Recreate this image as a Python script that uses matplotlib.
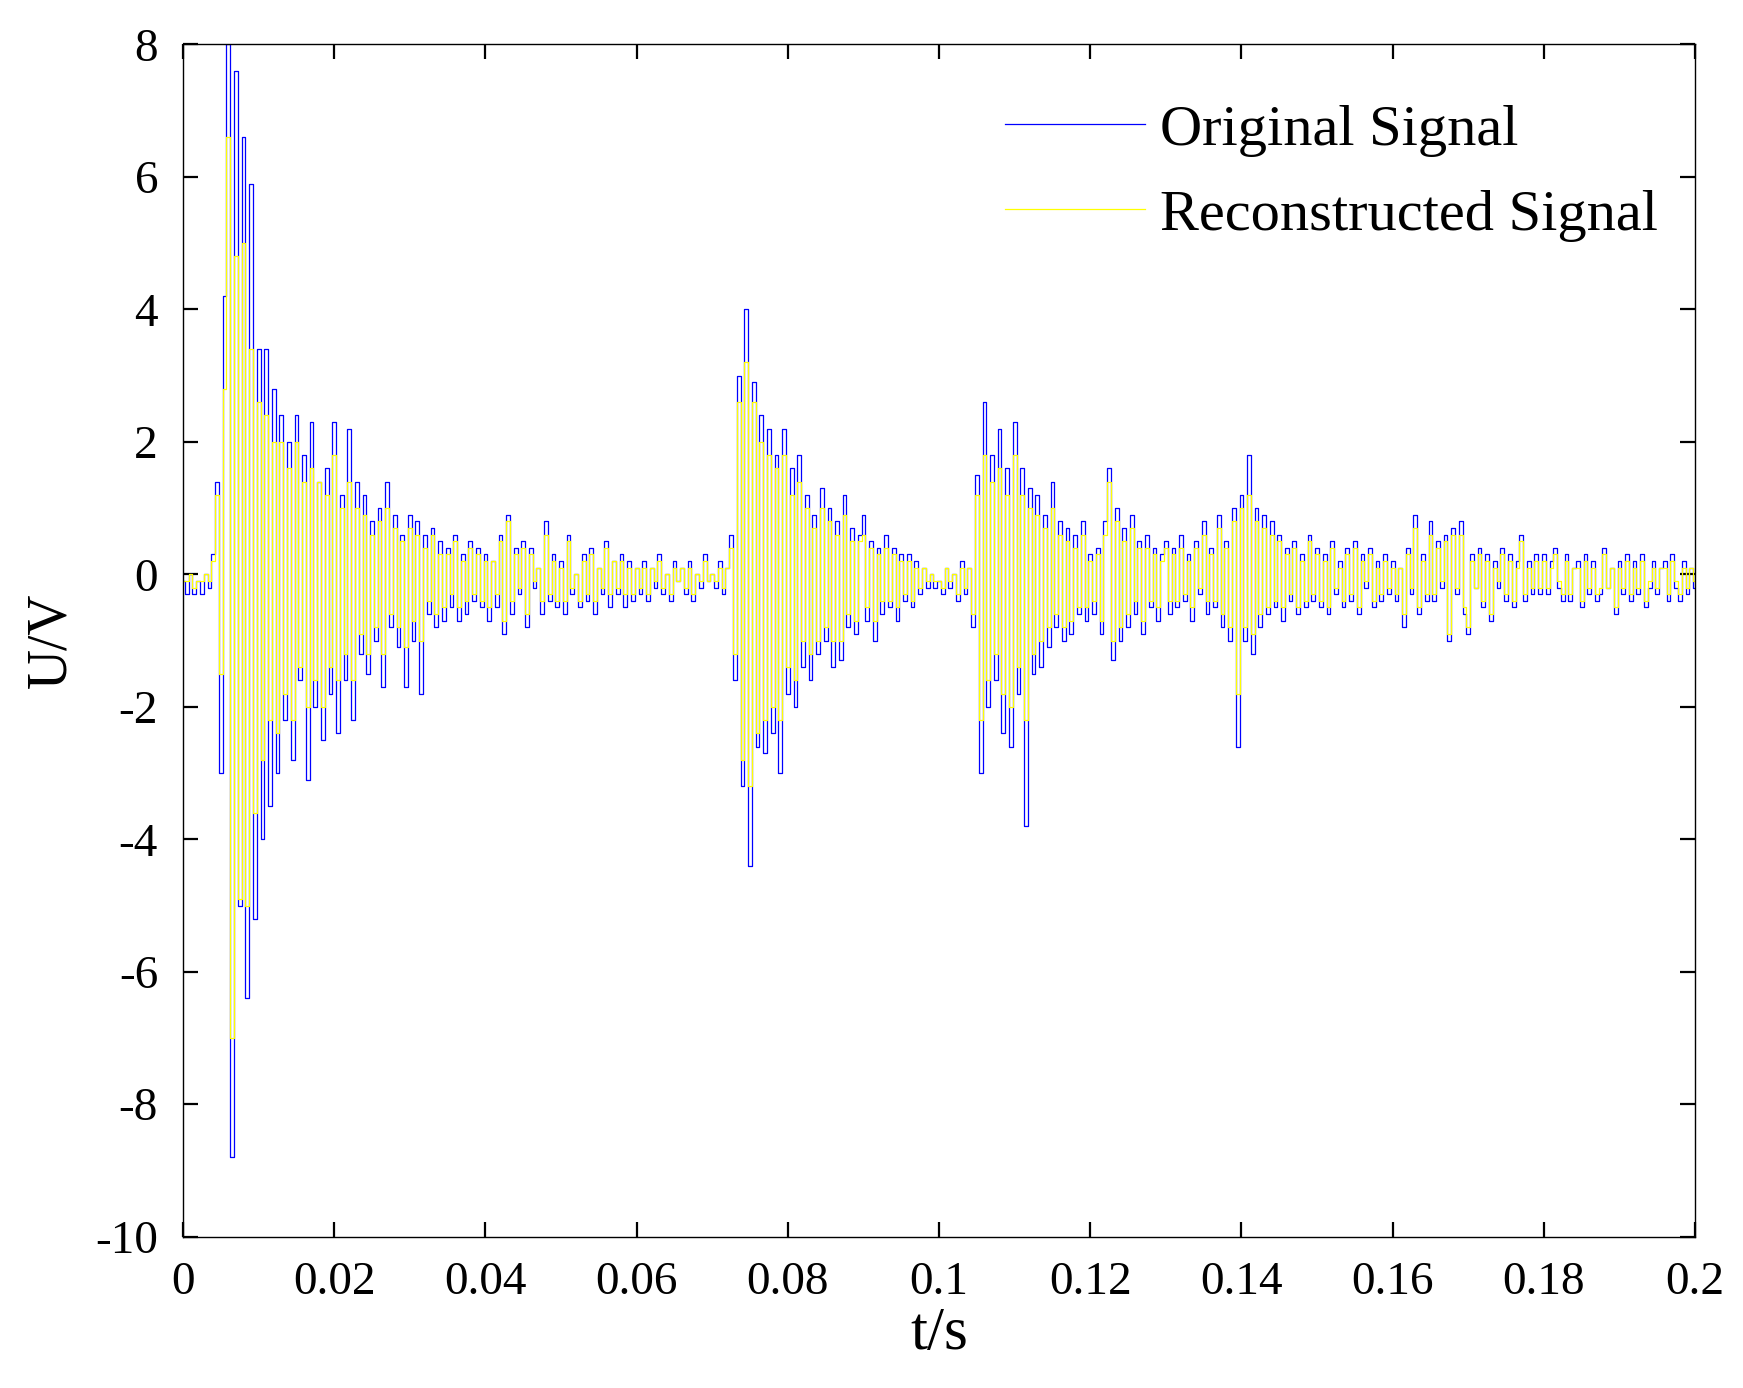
import numpy as np
import matplotlib
matplotlib.use("Agg")
import matplotlib.pyplot as plt
from matplotlib.ticker import FormatStrFormatter

plt.rcParams["font.family"] = ["Liberation Serif", "DejaVu Serif"]
plt.rcParams["axes.unicode_minus"] = False

DT = 0.0005  # sample spacing (s)

# original signal, one row per 0.01 s (20 samples)
original = [
    -0.1, -0.3, 0.0, -0.3, -0.1, -0.3, 0.0, -0.2, 0.3, 1.4, -3.0, 4.2, 8.0, -8.8, 7.6, -5.0, 6.6, -6.4, 5.9, -5.2,
    3.4, -4.0, 3.4, -3.5, 2.8, -3.0, 2.4, -2.2, 2.0, -2.8, 2.4, -1.6, 1.8, -3.1, 2.3, -2.0, 1.4, -2.5, 1.6, -1.8,
    2.3, -2.4, 1.2, -1.6, 2.2, -2.2, 1.4, -1.2, 1.2, -1.5, 0.8, -1.0, 1.0, -1.7, 1.4, -0.8, 0.9, -1.1, 0.6, -1.7,
    0.9, -1.0, 0.8, -1.8, 0.6, -0.6, 0.7, -0.8, 0.5, -0.7, 0.4, -0.5, 0.6, -0.7, 0.3, -0.6, 0.5, -0.4, 0.4, -0.5,
    0.3, -0.7, 0.2, -0.5, 0.6, -0.9, 0.9, -0.6, 0.4, -0.3, 0.5, -0.8, 0.4, -0.2, 0.1, -0.6, 0.8, -0.4, 0.3, -0.5,
    0.2, -0.6, 0.6, -0.3, 0.0, -0.5, 0.3, -0.4, 0.4, -0.6, 0.1, -0.3, 0.5, -0.5, 0.2, -0.3, 0.3, -0.5, 0.2, -0.4,
    0.1, -0.3, 0.2, -0.4, 0.1, -0.2, 0.3, -0.3, 0.0, -0.4, 0.2, -0.1, 0.1, -0.3, 0.2, -0.4, 0.0, -0.2, 0.3, -0.1,
    0.0, -0.2, 0.2, -0.3, 0.1, 0.6, -1.6, 3.0, -3.2, 4.0, -4.4, 2.9, -2.6, 2.4, -2.7, 2.2, -2.4, 1.8, -3.0, 2.2,
    -1.8, 1.6, -2.0, 1.8, -1.4, 1.2, -1.6, 0.9, -1.2, 1.3, -1.0, 1.0, -1.4, 0.8, -1.3, 1.2, -0.8, 0.7, -0.9, 0.6,
    0.9, -0.7, 0.5, -1.0, 0.4, -0.6, 0.6, -0.5, 0.4, -0.7, 0.3, -0.4, 0.3, -0.5, 0.2, -0.3, 0.1, -0.2, 0.0, -0.2,
    -0.1, -0.3, 0.1, -0.2, 0.0, -0.4, 0.2, -0.3, 0.1, -0.8, 1.5, -3.0, 2.6, -2.0, 1.8, -1.6, 2.2, -2.4, 1.6, -2.6,
    2.3, -1.8, 1.6, -3.8, 1.3, -1.5, 1.2, -1.4, 0.9, -1.1, 1.4, -0.8, 0.8, -1.0, 0.7, -0.9, 0.6, -0.6, 0.8, -0.7,
    0.3, -0.6, 0.4, -0.9, 0.8, 1.6, -1.3, 1.0, -1.0, 0.7, -0.8, 0.9, -0.6, 0.5, -0.9, 0.6, -0.5, 0.4, -0.7, 0.3,
    0.5, -0.6, 0.4, -0.5, 0.6, -0.4, 0.3, -0.7, 0.5, -0.3, 0.8, -0.6, 0.4, -0.5, 0.9, -0.8, 0.5, -1.0, 1.0, -2.6,
    1.2, -1.0, 1.8, -1.2, 1.0, -0.8, 0.9, -0.6, 0.8, -0.5, 0.6, -0.7, 0.4, -0.4, 0.5, -0.6, 0.3, -0.5, 0.6, -0.4,
    0.4, -0.5, 0.3, -0.6, 0.5, -0.3, 0.2, -0.5, 0.4, -0.4, 0.5, -0.6, 0.3, -0.2, 0.4, -0.5, 0.2, -0.4, 0.3, -0.3,
    0.2, -0.4, 0.1, -0.8, 0.4, -0.3, 0.9, -0.6, 0.3, -0.4, 0.8, -0.4, 0.5, -0.2, 0.6, -1.0, 0.7, -0.3, 0.8, -0.6,
    -0.9, 0.3, -0.2, 0.4, -0.5, 0.3, -0.7, 0.2, -0.2, 0.4, -0.4, 0.3, -0.5, 0.2, 0.6, -0.4, 0.2, -0.3, 0.3, -0.3,
    0.3, -0.3, 0.2, 0.4, -0.2, -0.4, 0.3, -0.4, 0.1, 0.2, -0.5, 0.3, -0.3, 0.2, -0.4, -0.3, 0.4, -0.2, 0.1, -0.6,
    0.2, -0.3, 0.3, -0.4, 0.2, -0.3, 0.3, -0.5, -0.2, 0.2, -0.3, 0.1, 0.2, -0.4, 0.3, -0.2, -0.4, 0.2, -0.3, 0.1,
    -0.2,
]

# reconstructed signal, same sampling
reconstructed = [
    -0.1, -0.1, 0.0, -0.2, -0.1, -0.1, 0.0, -0.1, 0.2, 1.2, -1.5, 2.8, 6.6, -7.0, 4.8, -4.9, 5.0, -5.0, 3.4, -3.6,
    2.6, -2.8, 2.4, -2.2, 2.0, -2.4, 2.0, -1.8, 1.6, -2.2, 2.0, -1.4, 1.4, -2.0, 1.6, -1.6, 1.4, -2.0, 1.2, -1.4,
    1.8, -1.6, 1.0, -1.2, 1.4, -1.6, 1.0, -0.9, 0.9, -1.2, 0.6, -0.8, 0.8, -1.2, 1.0, -0.6, 0.7, -0.8, 0.5, -1.1,
    0.7, -0.7, 0.6, -1.0, 0.4, -0.4, 0.6, -0.6, 0.3, -0.5, 0.3, -0.3, 0.5, -0.5, 0.2, -0.4, 0.4, -0.3, 0.3, -0.4,
    0.2, -0.5, 0.2, -0.3, 0.5, -0.7, 0.8, -0.4, 0.3, -0.2, 0.4, -0.6, 0.3, -0.1, 0.1, -0.4, 0.6, -0.3, 0.2, -0.4,
    0.1, -0.4, 0.5, -0.2, 0.0, -0.4, 0.2, -0.3, 0.3, -0.4, 0.1, -0.2, 0.4, -0.3, 0.2, -0.2, 0.2, -0.3, 0.1, -0.3,
    0.1, -0.2, 0.1, -0.3, 0.1, -0.1, 0.2, -0.2, 0.0, -0.3, 0.1, -0.1, 0.1, -0.2, 0.1, -0.3, 0.0, -0.1, 0.2, -0.1,
    0.0, -0.1, 0.1, -0.2, 0.1, 0.4, -1.2, 2.6, -2.8, 3.2, -3.2, 2.6, -2.4, 2.0, -2.2, 1.8, -2.0, 1.6, -2.2, 1.8,
    -1.4, 1.2, -1.6, 1.4, -1.0, 1.0, -1.2, 0.7, -1.0, 1.0, -0.8, 0.8, -1.0, 0.6, -1.0, 0.9, -0.6, 0.5, -0.7, 0.5,
    0.6, -0.5, 0.4, -0.7, 0.3, -0.4, 0.4, -0.4, 0.3, -0.5, 0.2, -0.3, 0.2, -0.4, 0.1, -0.2, 0.1, -0.1, 0.0, -0.1,
    -0.1, -0.2, 0.1, -0.1, 0.0, -0.3, 0.1, -0.2, 0.1, -0.6, 1.2, -2.2, 1.8, -1.6, 1.4, -1.2, 1.6, -1.8, 1.2, -2.0,
    1.8, -1.4, 1.2, -2.2, 1.0, -1.2, 0.9, -1.0, 0.7, -0.8, 1.0, -0.6, 0.6, -0.8, 0.5, -0.7, 0.4, -0.5, 0.6, -0.5,
    0.2, -0.4, 0.3, -0.7, 0.6, 1.4, -1.0, 0.8, -0.8, 0.5, -0.6, 0.7, -0.4, 0.4, -0.7, 0.4, -0.4, 0.3, -0.5, 0.2,
    0.4, -0.4, 0.3, -0.4, 0.4, -0.3, 0.2, -0.5, 0.4, -0.2, 0.6, -0.4, 0.3, -0.4, 0.7, -0.6, 0.4, -0.8, 0.8, -1.8,
    1.0, -0.8, 1.2, -0.9, 0.8, -0.6, 0.7, -0.5, 0.6, -0.4, 0.5, -0.5, 0.3, -0.3, 0.4, -0.5, 0.2, -0.4, 0.5, -0.3,
    0.3, -0.4, 0.2, -0.5, 0.4, -0.2, 0.1, -0.4, 0.3, -0.3, 0.4, -0.5, 0.2, -0.1, 0.3, -0.4, 0.1, -0.3, 0.2, -0.2,
    0.1, -0.3, 0.1, -0.6, 0.3, -0.2, 0.7, -0.5, 0.2, -0.3, 0.6, -0.3, 0.4, -0.1, 0.5, -0.9, 0.6, -0.2, 0.6, -0.5,
    -0.8, 0.2, -0.2, 0.3, -0.4, 0.2, -0.6, 0.1, -0.1, 0.3, -0.3, 0.2, -0.4, 0.1, 0.5, -0.3, 0.1, -0.2, 0.2, -0.2,
    0.2, -0.2, 0.1, 0.3, -0.1, -0.3, 0.2, -0.3, 0.1, 0.1, -0.4, 0.2, -0.2, 0.1, -0.3, -0.2, 0.3, -0.2, 0.1, -0.5,
    0.1, -0.2, 0.2, -0.3, 0.1, -0.2, 0.2, -0.4, -0.1, 0.1, -0.2, 0.1, 0.1, -0.3, 0.2, -0.1, -0.3, 0.1, -0.2, 0.1,
    -0.1,
]

x_ticks = [0, 0.02, 0.04, 0.06, 0.08, 0.1, 0.12, 0.14, 0.16, 0.18, 0.2]
y_ticks = [-10, -8, -6, -4, -2, 0, 2, 4, 6, 8]

t = np.arange(len(original)) * DT

fig = plt.figure(figsize=(17.43, 13.88), dpi=100)
ax = fig.add_axes([0.105, 0.109, 0.8675, 0.859])

ax.plot(t, original, color="#0000FF", linewidth=0.9, drawstyle="steps-mid",
        label="Original Signal")
ax.plot(t[:len(reconstructed)], reconstructed, color="#FFFF00", linewidth=0.9,
        drawstyle="steps-mid", label="Reconstructed Signal")

ax.set_xlim(0, 0.2)
ax.set_ylim(-10, 8)
ax.set_xticks(x_ticks)
ax.set_yticks(y_ticks)
ax.xaxis.set_major_formatter(FormatStrFormatter("%g"))
ax.tick_params(direction="in", top=True, right=True, length=11, width=1.6,
               labelsize=34, pad=18)
for s in ax.spines.values():
    s.set_linewidth(1.0)

ax.set_xlabel("t/s", fontsize=44, labelpad=2)
ax.set_ylabel("U/V", fontsize=40, labelpad=13)

ax.legend(loc="upper right", bbox_to_anchor=(1.01, 0.994), frameon=False,
          fontsize=42, handlelength=2.4, handletextpad=0.25, labelspacing=0.55)

fig.savefig("out.png", dpi=100)
